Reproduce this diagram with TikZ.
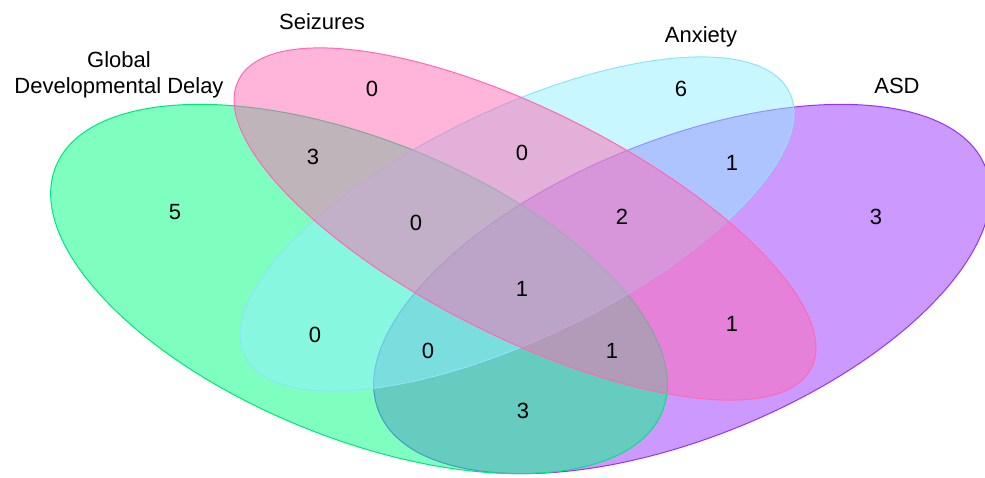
\documentclass[tikz,border=0pt]{standalone}
\usepackage{fontspec}
\setmainfont{Liberation Sans}
\definecolor{gddfill}{RGB}{0,255,128}
\definecolor{gddline}{RGB}{0,230,120}
\definecolor{seifill}{RGB}{255,105,180}
\definecolor{seiline}{RGB}{255,105,180}
\definecolor{anxfill}{RGB}{145,240,255}
\definecolor{anxline}{RGB}{140,228,250}
\definecolor{asdfill}{RGB}{153,51,255}
\definecolor{asdline}{RGB}{150,50,255}
\tikzset{
  vennset/.style={fill opacity=0.5,line width=1pt},
  setname/.style={anchor=base}
}
\begin{document}
\begin{tikzpicture}[x=1pt,y=-1pt,font=\fontsize{22}{26}\selectfont]
\useasboundingbox (0,0) rectangle (985,477);

% sets
\draw[vennset,draw=asdline,fill=asdfill,shift={(682,289)},rotate=22] (0,0) circle(327 and 149);
\draw[vennset,draw=gddline,fill=gddfill,shift={(359,289)},rotate=-22] (0,0) circle(327 and 149);
\draw[vennset,draw=anxline,fill=anxfill,shift={(517,224)},rotate=25.8] (0,0) circle(302.6 and 114.2);
\draw[vennset,draw=seiline,fill=seifill,shift={(525,224)},rotate=-26.7] (0,0) circle(320.6 and 113.4);

% names
\node[setname] (0) at (119,67) {Global};
\node[setname] (1) at (119,93) {Developmental Delay};
\node[setname] (2) at (322,29) {Seizures};
\node[setname] (3) at (701,42) {Anxiety};
\node[setname] (4) at (897,93) {ASD};

% counts
\node[] (a) at (175,212) {5};
\node[] (b) at (372,89) {0};
\node[] (c) at (681,89) {6};
\node[] (d) at (876,217) {3};
\node[] (e) at (313,157) {3};
\node[] (f) at (522,153) {0};
\node[] (g) at (732,163) {1};
\node[] (h) at (416,223) {0};
\node[] (i) at (622,217) {2};
\node[] (j) at (522,289) {1};
\node[] (k) at (315,335) {0};
\node[] (l) at (732,324) {1};
\node[] (m) at (428,351) {0};
\node[] (n) at (612,351) {1};
\node[] (o) at (523,411) {3};
\end{tikzpicture}
\end{document}
